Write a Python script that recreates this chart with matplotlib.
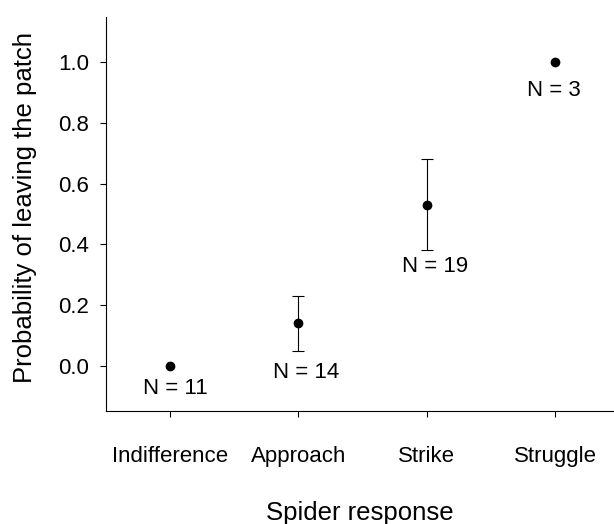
import matplotlib
matplotlib.use("Agg")
import matplotlib.pyplot as plt
import numpy as np

plt.rcParams['font.family'] = ['Liberation Sans', 'DejaVu Sans']

# Data
responses = ["Indifference", "Approach", "Strike", "Struggle"]
prob_leave = [0.0, 0.14, 0.53, 1.0]
err_lower = [0.0, 0.05, 0.38, 1.0]
err_upper = [0.0, 0.23, 0.68, 1.0]
sample_n = [11, 14, 19, 3]
y_ticks = [0.0, 0.2, 0.4, 0.6, 0.8, 1.0]

# Label offsets (pixels) from the lower end of each interval
label_offsets = [(5, -22), (7.5, -22), (8, -16.5), (-1.5, -29)]

fig = plt.figure(figsize=(6.14, 5.24), dpi=100)
ax = fig.add_axes([0.1726, 0.2156, 0.8274, 0.752])

x = np.arange(len(responses))
y = np.array(prob_leave)
yerr = np.array([y - np.array(err_lower), np.array(err_upper) - y])
has_err = (yerr.sum(axis=0) > 0)

ax.errorbar(x[has_err], y[has_err], yerr=yerr[:, has_err], fmt='none',
            ecolor='black', elinewidth=0.8, capsize=4, capthick=0.8, zorder=2)
ax.plot(x, y, 'o', color='black', markersize=6, zorder=3)

for xi, lo, n, (dx, dy) in zip(x, err_lower, sample_n, label_offsets):
    ax.annotate(f"N = {n}", xy=(xi, lo), xytext=(dx, dy),
                textcoords='offset pixels', ha='center', va='center',
                fontsize=16)

ax.set_xlim(-0.5, 3.46)
ax.set_ylim(-0.148, 1.148)
ax.set_xticks(x)
ax.set_xticklabels(responses)
ax.set_yticks(y_ticks)
ax.set_yticklabels([f"{v:.1f}" for v in y_ticks])

for side in ('top', 'right'):
    ax.spines[side].set_visible(False)
for side in ('left', 'bottom'):
    ax.spines[side].set_linewidth(0.8)

ax.tick_params(axis='both', labelsize=16, width=0.8, length=4, direction='out')
ax.tick_params(axis='x', pad=21)
ax.tick_params(axis='y', pad=8)

ax.set_xlabel("Spider response", fontsize=18.5, labelpad=25)
ax.set_ylabel("Probability of leaving the patch", fontsize=18.5)
ax.yaxis.set_label_coords(-0.135, 0.5165)

fig.savefig("out.png", dpi=100)
